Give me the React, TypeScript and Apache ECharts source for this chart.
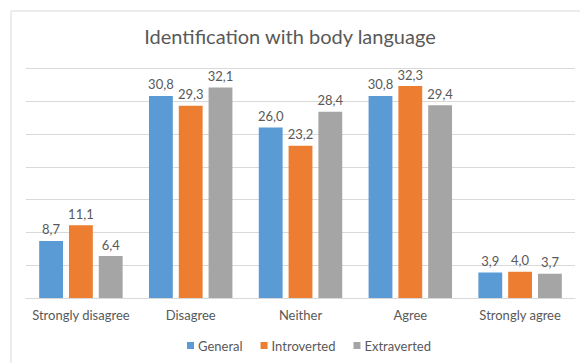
import React, { useEffect, useRef } from "react";
import * as echarts from "echarts";

const categories = ["Strongly disagree", "Disagree", "Neither", "Agree", "Strongly agree"];
const general = [8.7, 30.8, 26.0, 30.8, 3.9];
const introverted = [11.1, 29.3, 23.2, 32.3, 4.0];
const extraverted = [6.4, 32.1, 28.4, 29.4, 3.7];
const seriesNames = ["General", "Introverted", "Extraverted"];
const seriesColors = ["#5B9BD5", "#ED7D31", "#A5A5A5"];

const FONT = "Lato, 'Noto Sans', sans-serif";
const TEXT = "#595959";

export default function App() {
  const ref = useRef<HTMLDivElement>(null);

  useEffect(() => {
    if (!ref.current) return;
    const chart = echarts.init(ref.current, undefined, { renderer: "svg" });
    const values = [general, introverted, extraverted];

    chart.setOption({
      animation: false,
      backgroundColor: "#ffffff",
      textStyle: { fontFamily: FONT },
      title: {
        text: "Identification with body language",
        left: "center",
        top: 21,
        textStyle: { fontFamily: FONT, fontSize: 20, fontWeight: "normal", color: TEXT },
      },
      graphic: [
        {
          type: "rect",
          shape: { x: 11, y: 11, width: 620, height: 400 },
          style: { fill: "none", stroke: "#D9D9D9", lineWidth: 1 },
          silent: true,
        },
      ],
      legend: {
        top: 334,
        left: 182,
        itemWidth: 7,
        itemHeight: 7,
        itemGap: 18,
        icon: "rect",
        textStyle: { fontFamily: FONT, fontSize: 13, color: TEXT, padding: [0, 0, 0, -1] },
        data: seriesNames,
      },
      grid: { left: 26, right: 5, top: 68.4, bottom: 65 },
      xAxis: {
        type: "category",
        data: categories,
        axisLine: { lineStyle: { color: "#D9D9D9" } },
        axisTick: { show: false },
        axisLabel: { interval: 0, fontFamily: FONT, fontSize: 13, color: TEXT, margin: 10 },
      },
      yAxis: {
        type: "value",
        min: 0,
        max: 35,
        interval: 5,
        axisLabel: { show: false },
        axisLine: { show: false },
        axisTick: { show: false },
        splitLine: { lineStyle: { color: "#D9D9D9" } },
      },
      series: seriesNames.map((name, i) => ({
        name,
        type: "bar",
        data: values[i],
        itemStyle: { color: seriesColors[i] },
        barGap: "25%",
        barCategoryGap: "24%",
        label: {
          show: true,
          position: "top",
          distance: 5,
          fontFamily: FONT,
          fontSize: 13,
          color: TEXT,
          formatter: (p: any) => Number(p.value).toFixed(1).replace(".", ","),
        },
      })),
    });

    return () => chart.dispose();
  }, []);

  return (
    <div
      ref={ref}
      style={{ position: "fixed", left: 0, top: 0, width: 580, height: 363 }}
    />
  );
}
